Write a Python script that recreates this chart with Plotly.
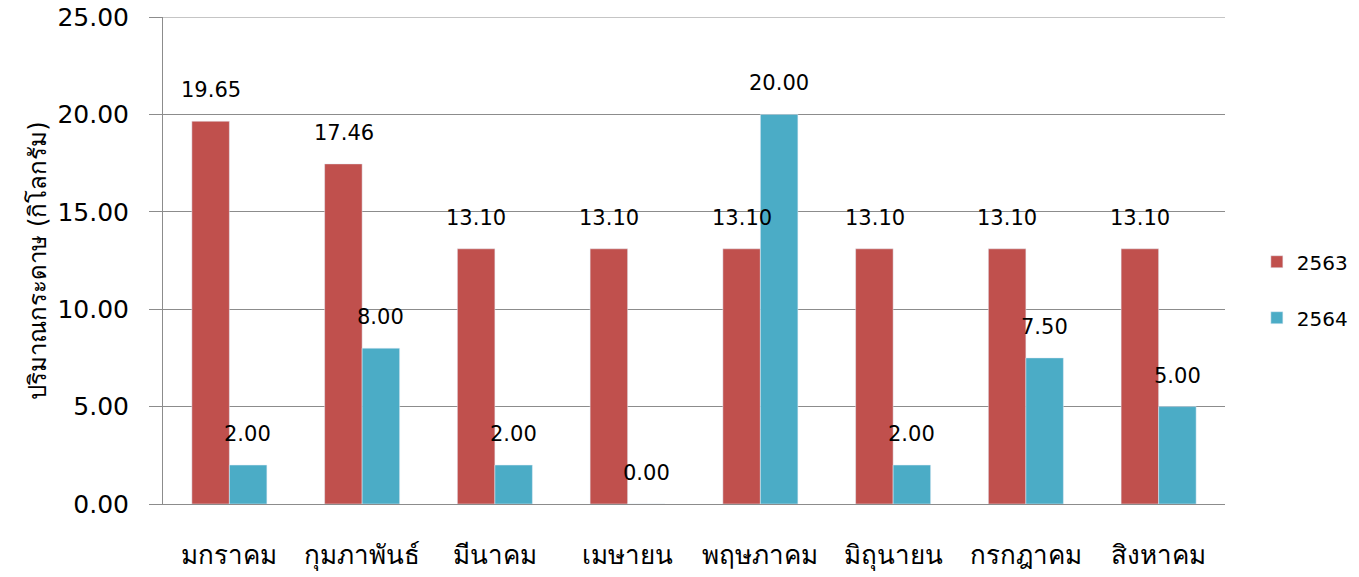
import plotly.graph_objects as go

months = ["มกราคม", "กุมภาพันธ์", "มีนาคม", "เมษายน", "พฤษภาคม", "มิถุนายน", "กรกฎาคม", "สิงหาคม"]
y2563 = [19.65, 17.46, 13.10, 13.10, 13.10, 13.10, 13.10, 13.10]
y2564 = [2.00, 8.00, 2.00, 0.00, 20.00, 2.00, 7.50, 5.00]
yticks = [0, 5, 10, 15, 20, 25]

RED = "#C0504D"
BLUE = "#4BACC6"
GRID = "#8c8c8c"
FONT = "'DejaVu Sans', Tahoma, sans-serif"

fig = go.Figure()
fig.add_trace(go.Bar(x=months, y=y2563, name="2563", marker_color=RED,
                     legendgroup="a"))
fig.add_trace(go.Bar(x=months, y=y2564, name="2564", marker_color=BLUE,
                     legendgroup="b"))

annotations = []
for series, shift in ((y2563, -18.5), (y2564, 18.5)):
    for m, v in zip(months, series):
        annotations.append(dict(x=m, y=v, xref="x", yref="y", text=f"{v:.2f}",
                                showarrow=False, xshift=shift, yshift=31,
                                font=dict(size=21, color="#000", family=FONT)))

# top gridline (plotly omits the gridline at the range edge)
fig.add_shape(type="line", xref="paper", yref="y", x0=0, x1=1,
              y0=yticks[-1], y1=yticks[-1], line=dict(color=GRID, width=1))

fig.update_layout(
    width=1359, height=577,
    margin=dict(l=163, r=134, t=17, b=73, autoexpand=False),
    paper_bgcolor="white", plot_bgcolor="white",
    barmode="group", bargap=0.435, bargroupgap=0,
    font=dict(family=FONT, color="#000"),
    annotations=annotations,
    legend=dict(x=1.03, y=0.44, xanchor="left", yanchor="middle",
                font=dict(size=20, family=FONT), tracegroupgap=27,
                traceorder="grouped", itemwidth=30),
    xaxis=dict(showline=True, linecolor=GRID, linewidth=1, ticks="",
               tickfont=dict(size=26, family=FONT), ticklabelstandoff=28,
               showgrid=False, automargin=False),
    yaxis=dict(range=[0, 25], tickvals=yticks, tickformat=".2f",
               showgrid=True, gridcolor=GRID, gridwidth=1,
               showline=True, linecolor=GRID, ticks="outside", ticklen=13,
               tickcolor=GRID, tickfont=dict(size=25, family=FONT),
               ticklabelstandoff=15,
               zeroline=False, automargin=False,
               title=dict(text="ปริมาณกระดาษ (กิโลกรัม)", font=dict(size=24, family=FONT),
                          standoff=4)),
)

fig.write_html("out.html", config={"displayModeBar": False},
               post_script="document.body.style.margin='0';document.body.style.overflow='hidden';")
